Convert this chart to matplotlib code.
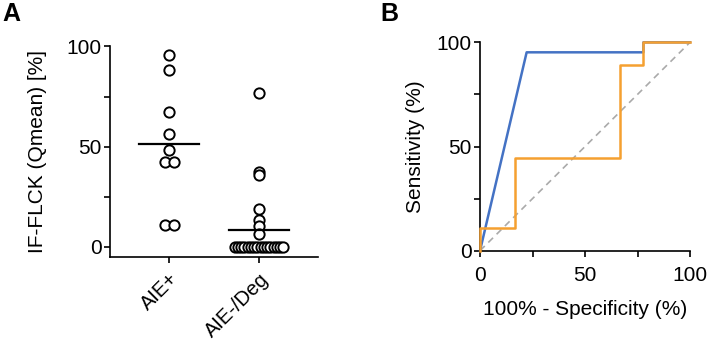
import numpy as np
import matplotlib.pyplot as plt

plt.rcParams['font.family'] = ['Liberation Sans', 'DejaVu Sans']

# Panel A data (IF-FLCK Qmean, %)
groups = ['AIE+', 'AIE-/Deg']
aie_pos = [95.8, 88.0, 67.5, 56.3, 48.3, 42.2, 42.2, 11.2, 11.2]
aie_neg = [76.7, 37.3, 36.0, 18.8, 13.3, 10.7, 6.3] + [0.0] * 16

# Panel B ROC curves (100% - specificity, sensitivity)
roc1_x = [0, 22.2, 77.8, 77.8, 100]
roc1_y = [0, 95.2, 95.2, 100, 100]
roc2_x = [0, 0, 16.7, 16.7, 66.7, 66.7, 77.8, 77.8, 100]
roc2_y = [0, 11.1, 11.1, 44.4, 44.4, 88.9, 88.9, 100, 100]


def spread(vals, step=0.1):
    # simple swarm: identical values placed side by side
    vals = np.asarray(vals)
    off = np.zeros(len(vals))
    for v in np.unique(vals):
        idx = np.where(vals == v)[0]
        n = len(idx)
        s = step if n < 4 else 0.54 / (n - 1)
        off[idx] = (np.arange(n) - (n - 1) / 2) * s
    return off


fs = 15
fig = plt.figure(figsize=(7.08, 3.44), dpi=100)

# ---- Panel A ----
axA = fig.add_axes([0.1554, 0.2529, 0.2938, 0.6134])
for i, vals in enumerate([aie_pos, aie_neg]):
    xs = i + spread(vals)
    axA.scatter(xs, vals, s=55, facecolors='white', edgecolors='black',
                linewidths=1.4, zorder=3, clip_on=False)
    m = np.mean(vals)
    axA.plot([i - 0.33, i + 0.33], [m, m], color='black', lw=1.6, zorder=4)

axA.set_xlim(-0.656, 1.656)
axA.set_ylim(-5, 100.2)
axA.set_xticks([0, 1])
axA.set_xticklabels(groups, rotation=45, ha='right', rotation_mode='anchor', fontsize=14.5)
axA.set_yticks([0, 25, 50, 75, 100])
axA.set_yticklabels(['0', '', '50', '', '100'], fontsize=fs)
axA.set_ylabel('IF-FLCK (Qmean) [%]', fontsize=fs, labelpad=14)
for sp in ['top', 'right']:
    axA.spines[sp].set_visible(False)
for sp in ['left', 'bottom']:
    axA.spines[sp].set_linewidth(1.2)
axA.tick_params(width=1.2, length=4, pad=2)
axA.tick_params(axis='x', pad=5)

# ---- Panel B ----
axB = fig.add_axes([0.678, 0.2712, 0.2966, 0.6058])
axB.plot([0, 100], [0, 100], color='#aaaaaa', lw=1.2, ls=(0, (4, 3)), zorder=1)
axB.plot(roc1_x, roc1_y, color='#4472C4', lw=1.8, zorder=2, clip_on=False)
axB.plot(roc2_x, roc2_y, color='#F5A030', lw=1.8, zorder=3, clip_on=False)
axB.set_xlim(0, 100)
axB.set_ylim(0, 100)
axB.set_xticks([0, 25, 50, 75, 100])
axB.set_xticklabels(['0', '', '50', '', '100'], fontsize=fs)
axB.set_yticks([0, 25, 50, 75, 100])
axB.set_yticklabels(['0', '', '50', '', '100'], fontsize=fs)
axB.set_xlabel('100% - Specificity (%)', fontsize=fs, labelpad=11)
axB.set_ylabel('Sensitivity (%)', fontsize=fs, labelpad=8)
for sp in ['top', 'right']:
    axB.spines[sp].set_visible(False)
for sp in ['left', 'bottom']:
    axB.spines[sp].set_linewidth(1.2)
axB.tick_params(width=1.2, length=4, pad=2)
axB.tick_params(axis='x', pad=7)

fig.text(0.004, 0.995, 'A', fontsize=18, fontweight='bold', va='top')
fig.text(0.537, 0.995, 'B', fontsize=18, fontweight='bold', va='top')

fig.savefig('out.png', dpi=100)
